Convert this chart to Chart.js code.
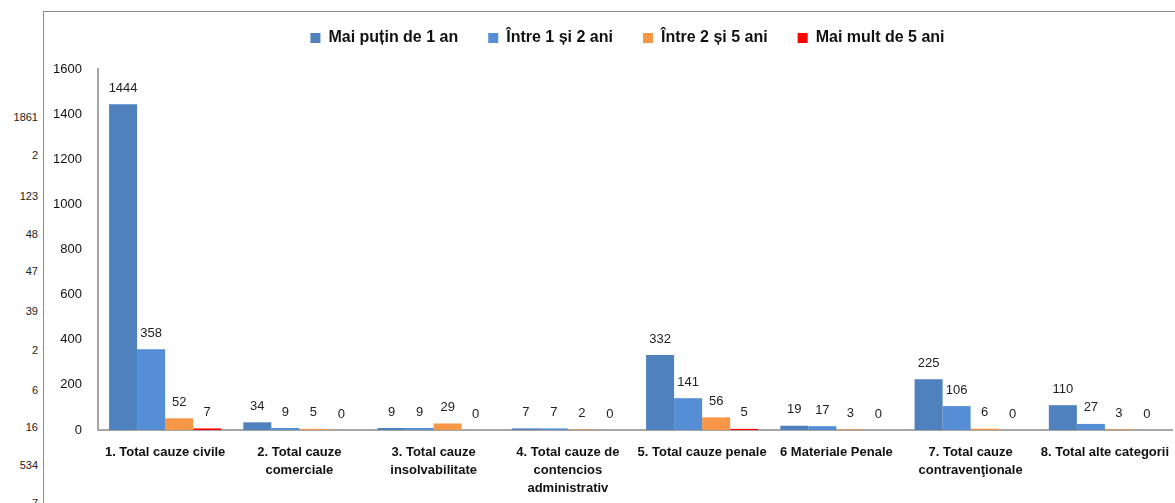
<!DOCTYPE html>
<html>
<head>
<meta charset="utf-8">
<script src="https://cdn.jsdelivr.net/npm/chart.js@4"></script>
<style>
    html, body { margin: 0; padding: 0; background: #fff; }
    body { width: 1175px; height: 503px; position: relative; overflow: hidden; font-family: "Liberation Sans", Arial, sans-serif; }
    #frame { position: absolute; left: 43px; top: 11px; width: 1140px; height: 500px; border-left: 1px solid #8c8c8c; border-top: 1px solid #8c8c8c; }
    #wrap { position: absolute; left: 45px; top: 0px; width: 1130px; height: 503px; }
    .stray { position: absolute; right: 1137px; font-size: 11px; color: #222; line-height: 12px; }
</style>
</head>
<body>
<div id="frame"></div>
<div id="strays"></div>
<div id="wrap"><canvas id="chart"></canvas></div>
<script>
// Categories and series
const categories = [
    '1. Total cauze civile',
    ['2. Total cauze', 'comerciale'],
    ['3. Total cauze', 'insolvabilitate'],
    ['4. Total cauze de', 'contencios', 'administrativ'],
    '5. Total cauze penale',
    '6 Materiale Penale',
    ['7. Total cauze', 'contravenţionale'],
    '8. Total alte categorii'
];
const seriesNames = ['Mai puțin de 1 an', 'Între 1 și 2 ani', 'Între 2 și 5 ani', 'Mai mult de 5 ani'];
const underOneYear = [1444, 34, 9, 7, 332, 19, 225, 110];
const oneToTwoYears = [358, 9, 9, 7, 141, 17, 106, 27];
const twoToFiveYears = [52, 5, 29, 2, 56, 3, 6, 3];
const overFiveYears = [7, 0, 0, 0, 5, 0, 0, 0];
const seriesColors = ['#4F81BD', '#558ED5', '#F79646', '#FF0000'];

// Stray cell values visible left of the chart frame
const strayValues = ['1861', '2', '123', '48', '47', '39', '2', '6', '16', '534', '7'];
const strayTops = [111, 149, 190, 228, 265, 305, 344, 384, 421, 459, 497];

const strayBox = document.getElementById('strays');
strayValues.forEach((v, i) => {
    const d = document.createElement('div');
    d.className = 'stray';
    d.style.top = strayTops[i] + 'px';
    d.textContent = v;
    strayBox.appendChild(d);
});

// Draw value labels above each bar
const valueLabels = {
    id: 'valueLabels',
    afterDatasetsDraw(chart) {
        const ctx = chart.ctx;
        ctx.save();
        ctx.font = '13px "Liberation Sans", Arial, sans-serif';
        ctx.fillStyle = '#222';
        ctx.textAlign = 'center';
        ctx.textBaseline = 'middle';
        chart.data.datasets.forEach((ds, i) => {
            const meta = chart.getDatasetMeta(i);
            meta.data.forEach((bar, j) => {
                ctx.fillText(String(ds.data[j]), bar.x, bar.y - 16);
            });
        });
        ctx.restore();
    }
};

// Fixed legend height, legend nudged right like the original
const legendHeight = {
    id: 'legendHeight',
    beforeInit(chart) {
        const fit = chart.legend.fit;
        chart.legend.fit = function() {
            fit.bind(chart.legend)();
            this.height = 69;
        };
    },
    afterLayout(chart) {
        chart.legend.left += 19;
        chart.legend.right += 19;
    }
};

const datasets = [underOneYear, oneToTwoYears, twoToFiveYears, overFiveYears].map((d, i) => ({
    label: seriesNames[i],
    data: d,
    backgroundColor: seriesColors[i],
    categoryPercentage: 0.835,
    barPercentage: 1.0
}));

new Chart(document.getElementById('chart').getContext('2d'), {
    type: 'bar',
    data: { labels: categories, datasets: datasets },
    options: {
        responsive: true,
        maintainAspectRatio: false,
        animation: false,
        layout: { padding: { left: 0, right: 3, top: 0, bottom: 0 } },
        scales: {
            x: {
                grid: { display: false },
                border: { display: true, color: '#A6A6A6', width: 2 },
                ticks: {
                    color: '#111',
                    maxRotation: 0,
                    autoSkip: false,
                    padding: 5,
                    font: { family: '"Liberation Sans", Arial, sans-serif', size: 13, weight: 'bold', lineHeight: 1.4 }
                },
                afterFit(scale) { scale.height = 73; }
            },
            y: {
                min: 0,
                max: 1600,
                grid: { display: false },
                border: { display: true, color: '#A6A6A6', width: 2 },
                ticks: {
                    stepSize: 200,
                    color: '#111',
                    padding: 8,
                    callback: v => String(v),
                    font: { family: '"Liberation Sans", Arial, sans-serif', size: 13 }
                },
                afterFit(scale) { scale.width = 53; }
            }
        },
        plugins: {
            legend: {
                position: 'top',
                labels: {
                    boxWidth: 10,
                    boxHeight: 10,
                    padding: 30,
                    color: '#111',
                    font: { family: '"Liberation Sans", Arial, sans-serif', size: 16, weight: 'bold' }
                }
            },
            tooltip: { enabled: false }
        }
    },
    plugins: [valueLabels, legendHeight]
});
</script>
</body>
</html>
